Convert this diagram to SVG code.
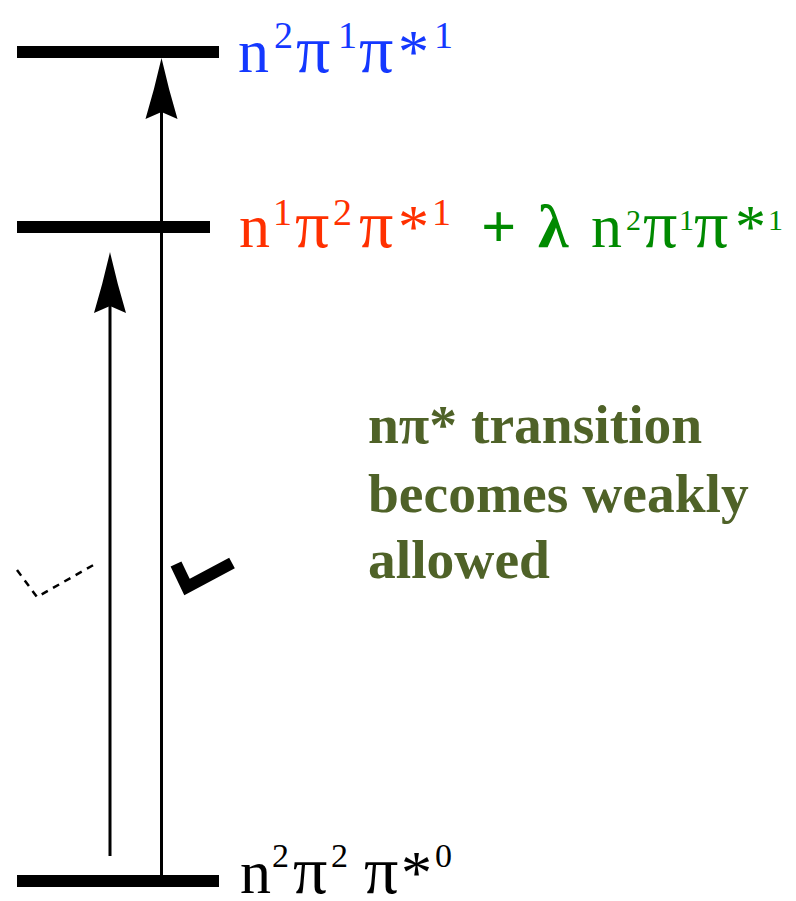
<svg xmlns="http://www.w3.org/2000/svg" width="796" height="901" viewBox="0 0 796 901">
  <style>
    .level { fill: #000; }
    .arrow { stroke: #000; stroke-width: 3; fill: none; marker-end: url(#head); }
    .t { font-family: "Liberation Serif", "Times New Roman", serif; font-size: 62px; }
    .pi { font-size: 68px; }
    .note { font-family: "Liberation Serif", "Times New Roman", serif; font-size: 55.5px; font-weight: bold; fill: #4F6228; }
  </style>
  <defs>
    <marker id="head" markerUnits="userSpaceOnUse" markerWidth="62" markerHeight="34" viewBox="0 -17 62 34" refX="41" refY="0" orient="auto">
      <path d="M61,0 Q30,-7 0,-16 L7,0 L0,16 Q30,7 61,0 Z" fill="#000"/>
    </marker>
  </defs>

  <g id="level-top">
    <rect class="level" x="17" y="46" width="202" height="12"/>
    <text class="t" y="72" fill="#1438FF"><tspan x="238">n</tspan><tspan x="274" y="48" font-size="38">2</tspan><tspan class="pi" x="296" y="72">π</tspan><tspan x="338" y="48" font-size="38">1</tspan><tspan class="pi" x="359" y="72">π</tspan><tspan x="398" y="72">*</tspan><tspan x="434" y="48" font-size="38">1</tspan></text>
  </g>

  <g id="level-mid">
    <rect class="level" x="17" y="221" width="193" height="12"/>
    <text class="t" y="247" fill="#FF3000"><tspan x="239">n</tspan><tspan x="273" y="225" font-size="38">1</tspan><tspan class="pi" x="295" y="247">π</tspan><tspan x="333" y="225" font-size="38">2</tspan><tspan class="pi" x="359" y="247">π</tspan><tspan x="398" y="247">*</tspan><tspan x="432" y="225" font-size="38">1</tspan></text>
    <text class="t" y="247" fill="#008A00"><tspan x="481" font-weight="bold">+</tspan><tspan x="538" font-weight="bold">λ</tspan><tspan x="591">n</tspan><tspan x="626" y="230" font-size="30">2</tspan><tspan class="pi" x="643" y="247">π</tspan><tspan x="679" y="230" font-size="30">1</tspan><tspan class="pi" x="694" y="247">π</tspan><tspan x="735" y="247">*</tspan><tspan x="768" y="230" font-size="30">1</tspan></text>
  </g>

  <g id="level-bottom">
    <rect class="level" x="17" y="875" width="202" height="12"/>
    <text class="t" y="893" fill="#000"><tspan x="240">n</tspan><tspan x="272" y="867" font-size="34">2</tspan><tspan class="pi" x="293" y="893">π</tspan><tspan x="331" y="867" font-size="34">2</tspan><tspan class="pi" x="364" y="893">π</tspan><tspan x="401" y="893">*</tspan><tspan x="435" y="867" font-size="34">0</tspan></text>
  </g>

  <g id="connectors">
    <line class="arrow" x1="161.5" y1="881" x2="161.5" y2="78"/>
    <line class="arrow" x1="110" y1="856" x2="110" y2="272"/>
  </g>

  <g id="forbidden-mark">
    <polyline points="17,570 37,597 97,563" fill="none" stroke="#000" stroke-width="2.5" stroke-dasharray="7,6"/>
  </g>
  <g id="allowed-mark">
    <polyline points="176,564 187,587 232,563" fill="none" stroke="#000" stroke-width="12" stroke-linejoin="miter"/>
  </g>

  <g id="note">
    <text class="note" x="368" y="443">nπ* transition</text>
    <text class="note" x="368" y="512">becomes weakly</text>
    <text class="note" x="368" y="578">allowed</text>
  </g>
</svg>
